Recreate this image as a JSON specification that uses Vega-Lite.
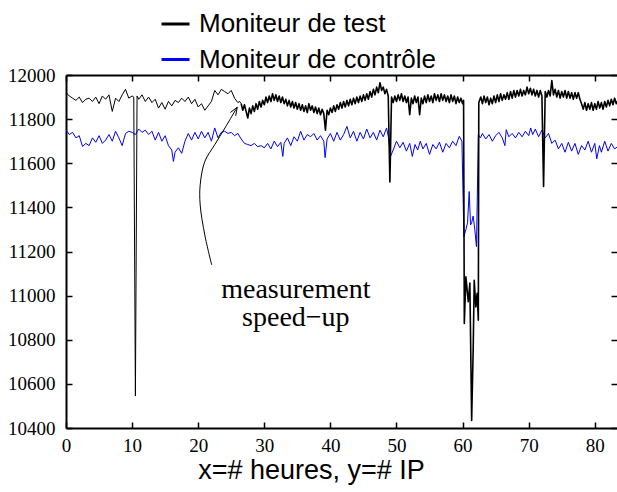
{
  "$schema": "https://vega.github.io/schema/vega-lite/v6.json",
  "width": 551,
  "height": 353,
  "autosize": {"type": "none"},
  "padding": {"left": 66, "top": 75, "right": 0, "bottom": 64},
  "background": "white",
  "config": {"view": {"stroke": null}, "axis": {"grid": false}},
  "layer": [
    {
      "data": {"values": [
        {"x":0,"y":11752},{"x":0.5,"y":11730},{"x":1,"y":11740},{"x":1.5,"y":11715},{"x":2,"y":11725},{"x":2.5,"y":11676},{"x":3,"y":11690},{"x":3.5,"y":11680},{"x":4,"y":11715},{"x":4.5,"y":11695},
        {"x":5,"y":11725},{"x":5.5,"y":11690},{"x":6,"y":11705},{"x":6.5,"y":11730},{"x":7,"y":11700},{"x":7.5,"y":11745},{"x":8,"y":11715},{"x":8.5,"y":11680},{"x":9,"y":11735},{"x":9.5,"y":11745},
        {"x":10,"y":11740},{"x":10.5,"y":11730},{"x":11,"y":11755},{"x":11.5,"y":11740},{"x":12,"y":11750},{"x":12.5,"y":11730},{"x":13,"y":11745},{"x":13.5,"y":11705},{"x":14,"y":11740},{"x":14.5,"y":11700},
        {"x":15,"y":11725},{"x":15.5,"y":11680},{"x":16,"y":11660},{"x":16.25,"y":11608},{"x":16.5,"y":11650},{"x":17,"y":11670},{"x":17.5,"y":11645},{"x":18,"y":11700},{"x":18.5,"y":11735},{"x":19,"y":11705},
        {"x":19.5,"y":11740},{"x":20,"y":11710},{"x":20.5,"y":11745},{"x":21,"y":11715},{"x":21.5,"y":11740},{"x":22,"y":11700},{"x":22.5,"y":11760},{"x":23,"y":11715},{"x":23.5,"y":11740},{"x":24,"y":11745},
        {"x":24.5,"y":11735},{"x":25,"y":11740},{"x":25.5,"y":11725},{"x":26,"y":11735},{"x":26.5,"y":11710},{"x":27,"y":11690},{"x":27.5,"y":11685},{"x":28,"y":11680},{"x":28.5,"y":11690},{"x":29,"y":11675},
        {"x":29.5,"y":11680},{"x":30,"y":11670},{"x":30.5,"y":11690},{"x":31,"y":11665},{"x":31.5,"y":11700},{"x":32,"y":11675},{"x":32.5,"y":11695},{"x":32.8,"y":11631},{"x":33,"y":11690},{"x":33.5,"y":11715},
        {"x":34,"y":11680},{"x":34.5,"y":11720},{"x":35,"y":11700},{"x":35.5,"y":11745},{"x":36,"y":11705},{"x":36.5,"y":11730},{"x":37,"y":11720},{"x":37.5,"y":11735},{"x":38,"y":11705},{"x":38.5,"y":11725},
        {"x":39,"y":11700},{"x":39.2,"y":11625},{"x":39.5,"y":11710},{"x":40,"y":11735},{"x":40.5,"y":11700},{"x":41,"y":11740},{"x":41.5,"y":11705},{"x":42,"y":11730},{"x":42.5,"y":11767},{"x":43,"y":11715},
        {"x":43.5,"y":11745},{"x":44,"y":11700},{"x":44.5,"y":11740},{"x":45,"y":11710},{"x":45.5,"y":11755},{"x":46,"y":11715},{"x":46.5,"y":11740},{"x":47,"y":11705},{"x":47.5,"y":11750},{"x":48,"y":11720},
        {"x":48.5,"y":11760},{"x":48.8,"y":11715},{"x":49.1,"y":11631},{"x":49.5,"y":11660},{"x":50,"y":11700},{"x":50.5,"y":11670},{"x":51,"y":11695},{"x":51.5,"y":11655},{"x":52,"y":11690},{"x":52.4,"y":11631},
        {"x":52.8,"y":11685},{"x":53.2,"y":11660},{"x":53.6,"y":11700},{"x":54,"y":11665},{"x":54.5,"y":11690},{"x":55,"y":11640},{"x":55.5,"y":11685},{"x":56,"y":11665},{"x":56.5,"y":11695},{"x":57,"y":11650},
        {"x":57.5,"y":11690},{"x":58,"y":11670},{"x":58.5,"y":11700},{"x":59,"y":11680},{"x":59.5,"y":11722},{"x":59.9,"y":11700},{"x":60.2,"y":11267},{"x":60.5,"y":11300},{"x":60.75,"y":11330},{"x":61.0,"y":11472},
        {"x":61.2,"y":11320},{"x":61.37,"y":11330},{"x":61.6,"y":11361},{"x":61.85,"y":11298},{"x":62.1,"y":11222},{"x":62.38,"y":11730},{"x":62.7,"y":11715},{"x":63,"y":11735},{"x":63.5,"y":11710},{"x":64,"y":11730},
        {"x":64.5,"y":11700},{"x":65,"y":11725},{"x":65.5,"y":11740},{"x":66,"y":11715},{"x":66.4,"y":11680},{"x":66.6,"y":11752},{"x":67,"y":11720},{"x":67.5,"y":11735},{"x":68,"y":11715},{"x":68.5,"y":11740},
        {"x":69,"y":11720},{"x":69.5,"y":11745},{"x":70,"y":11725},{"x":70.3,"y":11760},{"x":70.6,"y":11730},{"x":71,"y":11755},{"x":71.5,"y":11720},{"x":72,"y":11750},{"x":72.5,"y":11715},{"x":73,"y":11735},
        {"x":73.5,"y":11690},{"x":74,"y":11705},{"x":74.5,"y":11665},{"x":75,"y":11690},{"x":75.5,"y":11650},{"x":76,"y":11695},{"x":76.5,"y":11655},{"x":77,"y":11690},{"x":77.5,"y":11640},{"x":78,"y":11680},
        {"x":78.5,"y":11660},{"x":79,"y":11700},{"x":79.5,"y":11650},{"x":80,"y":11690},{"x":80.3,"y":11620},{"x":80.7,"y":11680},{"x":81,"y":11650},{"x":81.5,"y":11700},{"x":82,"y":11655},{"x":82.5,"y":11690},
        {"x":83,"y":11665},{"x":83.5,"y":11676}
      ]},
      "mark": {"type": "line", "strokeWidth": 1, "clip": true, "strokeJoin": "round"},
      "encoding": {
        "x": {"field": "x", "type": "quantitative", "scale": {"domain": [0, 83.36], "nice": false, "zero": false},
              "axis": {"orient": "top", "values": [0,10,20,30,40,50,60,70,80], "labels": false, "title": null, "tickSize": -6, "tickWidth": 1.5, "tickColor": "black", "domainColor": "black", "domainWidth": 2}},
        "y": {"field": "y", "type": "quantitative", "scale": {"domain": [10400, 12000], "nice": false, "zero": false},
              "axis": {"orient": "right", "values": [10400,10600,10800,11000,11200,11400,11600,11800,12000], "labels": false, "title": null, "tickSize": -6, "tickWidth": 1.5, "tickColor": "black", "domain": false}},
        "color": {"datum": "Moniteur de contrôle", "type": "nominal",
                  "scale": {"domain": ["Moniteur de test", "Moniteur de contrôle"], "range": ["#000000", "#0000ff"]},
                  "legend": {"orient": "none", "legendX": 94, "legendY": -66.5, "title": null, "symbolType": "stroke", "symbolSize": 784, "symbolStrokeWidth": 3, "labelFont": "Liberation Sans", "labelFontSize": 26, "labelColor": "black", "labelOffset": 8, "labelLimit": 500, "rowPadding": 6.5, "padding": 0}}
      }
    },
    {
      "data": {"values": [
        {"x":0,"y":11920},{"x":0.5,"y":11905},{"x":1,"y":11895},{"x":1.5,"y":11885},{"x":2,"y":11900},{"x":2.5,"y":11875},{"x":3,"y":11890},{"x":3.5,"y":11895},{"x":4,"y":11880},{"x":4.5,"y":11900},
        {"x":5,"y":11870},{"x":5.5,"y":11905},{"x":6,"y":11890},{"x":6.5,"y":11910},{"x":7,"y":11835},{"x":7.5,"y":11895},{"x":8,"y":11880},{"x":8.5,"y":11910},{"x":9,"y":11935},{"x":9.5,"y":11895},
        {"x":10,"y":11905},{"x":10.25,"y":11900},{"x":10.5,"y":10545},{"x":10.75,"y":11905},{"x":11,"y":11890},{"x":11.5,"y":11910},{"x":12,"y":11880},{"x":12.5,"y":11900},{"x":13,"y":11875},{"x":13.5,"y":11890},
        {"x":14,"y":11850},{"x":14.5,"y":11875},{"x":15,"y":11845},{"x":15.5,"y":11880},{"x":16,"y":11860},{"x":16.5,"y":11885},{"x":17,"y":11875},{"x":17.5,"y":11895},{"x":18,"y":11880},{"x":18.5,"y":11900},
        {"x":19,"y":11870},{"x":19.5,"y":11890},{"x":20,"y":11855},{"x":20.5,"y":11870},{"x":21,"y":11840},{"x":21.5,"y":11860},{"x":22,"y":11880},{"x":22.5,"y":11930},{"x":23,"y":11910},{"x":23.5,"y":11935},
        {"x":24,"y":11925},{"x":24.5,"y":11915},{"x":25,"y":11930},{"x":25.5,"y":11895},{"x":26,"y":11875},{"x":26.25,"y":11880},{"x":26.5,"y":11870}
      ]},
      "mark": {"type": "line", "strokeWidth": 1, "clip": true, "strokeJoin": "round"},
      "encoding": {
        "x": {"field": "x", "type": "quantitative", "scale": {"domain": [0, 83.36], "nice": false, "zero": false},
              "axis": {"orient": "bottom", "values": [0,10,20,30,40,50,60,70,80], "tickSize": -6, "tickWidth": 1.5, "tickColor": "black", "domainColor": "black", "domainWidth": 2,
                       "labelFont": "Liberation Serif", "labelFontSize": 19, "labelColor": "black", "labelPadding": 14, "labelFlush": false, "labelOverlap": false,
                       "title": "x=# heures, y=# IP", "titleFont": "Liberation Sans", "titleFontSize": 27, "titleFontWeight": "normal", "titleColor": "black",
                       "titleX": 245, "titleY": 50, "titleAlign": "center", "titleBaseline": "alphabetic"}},
        "y": {"field": "y", "type": "quantitative", "scale": {"domain": [10400, 12000], "nice": false, "zero": false},
              "axis": {"orient": "left", "values": [10400,10600,10800,11000,11200,11400,11600,11800,12000], "format": "d", "tickSize": -6, "tickWidth": 1.5, "tickColor": "black", "domainColor": "black", "domainWidth": 2,
                       "labelFont": "Liberation Serif", "labelFontSize": 19, "labelColor": "black", "labelPadding": 17, "labelFlush": false, "labelOverlap": false, "title": null}},
        "color": {"datum": "Moniteur de test", "type": "nominal",
                  "scale": {"domain": ["Moniteur de test", "Moniteur de contrôle"], "range": ["#000000", "#0000ff"]}}
      }
    },
    {
      "data": {"values": [
        {"x":26.5,"y":11870},{"x":26.75,"y":11840},{"x":27,"y":11865},{"x":27.25,"y":11835},{"x":27.5,"y":11805},{"x":27.75,"y":11850},{"x":28,"y":11825},{"x":28.25,"y":11860},{"x":28.5,"y":11835},{"x":28.75,"y":11870},
        {"x":29,"y":11845},{"x":29.25,"y":11880},{"x":29.5,"y":11855},{"x":29.75,"y":11885},{"x":30,"y":11865},{"x":30.25,"y":11900},{"x":30.5,"y":11875},{"x":30.75,"y":11905},{"x":31,"y":11880},{"x":31.25,"y":11915},
        {"x":31.5,"y":11885},{"x":31.75,"y":11910},{"x":32,"y":11880},{"x":32.25,"y":11905},{"x":32.5,"y":11875},{"x":32.75,"y":11900},{"x":33,"y":11870},{"x":33.25,"y":11890},{"x":33.5,"y":11860},{"x":33.75,"y":11885},
        {"x":34,"y":11855},{"x":34.25,"y":11880},{"x":34.5,"y":11850},{"x":34.75,"y":11875},{"x":35,"y":11845},{"x":35.25,"y":11870},{"x":35.5,"y":11840},{"x":35.75,"y":11865},{"x":36,"y":11835},{"x":36.25,"y":11860},
        {"x":36.5,"y":11830},{"x":36.75,"y":11870},{"x":37,"y":11840},{"x":37.25,"y":11860},{"x":37.5,"y":11830},{"x":37.75,"y":11855},{"x":38,"y":11825},{"x":38.25,"y":11850},{"x":38.5,"y":11820},{"x":38.75,"y":11845},
        {"x":39,"y":11825},{"x":39.25,"y":11750},{"x":39.5,"y":11840},{"x":39.75,"y":11820},{"x":40,"y":11850},{"x":40.25,"y":11830},{"x":40.5,"y":11860},{"x":40.75,"y":11835},{"x":41,"y":11865},{"x":41.25,"y":11845},
        {"x":41.5,"y":11875},{"x":41.75,"y":11850},{"x":42,"y":11880},{"x":42.25,"y":11855},{"x":42.5,"y":11885},{"x":42.75,"y":11860},{"x":43,"y":11890},{"x":43.25,"y":11865},{"x":43.5,"y":11895},{"x":43.75,"y":11870},
        {"x":44,"y":11900},{"x":44.25,"y":11875},{"x":44.5,"y":11905},{"x":44.75,"y":11880},{"x":45,"y":11910},{"x":45.25,"y":11885},{"x":45.5,"y":11915},{"x":45.75,"y":11890},{"x":46,"y":11925},{"x":46.25,"y":11900},
        {"x":46.5,"y":11935},{"x":46.75,"y":11910},{"x":47,"y":11945},{"x":47.25,"y":11920},{"x":47.5,"y":11965},{"x":47.75,"y":11930},{"x":48,"y":11945},{"x":48.25,"y":11915},{"x":48.5,"y":11935},{"x":48.75,"y":11905},
        {"x":49,"y":11515},{"x":49.25,"y":11900},{"x":49.5,"y":11875},{"x":49.75,"y":11905},{"x":50,"y":11880},{"x":50.25,"y":11910},{"x":50.5,"y":11885},{"x":50.75,"y":11915},{"x":51,"y":11880},{"x":51.25,"y":11905},
        {"x":51.5,"y":11875},{"x":51.75,"y":11900},{"x":52,"y":11820},{"x":52.25,"y":11895},{"x":52.5,"y":11870},{"x":52.75,"y":11905},{"x":53,"y":11875},{"x":53.25,"y":11900},{"x":53.5,"y":11820},{"x":53.75,"y":11895},
        {"x":54,"y":11870},{"x":54.25,"y":11905},{"x":54.5,"y":11875},{"x":54.75,"y":11910},{"x":55,"y":11880},{"x":55.25,"y":11905},{"x":55.5,"y":11875},{"x":55.75,"y":11915},{"x":56,"y":11885},{"x":56.25,"y":11910},
        {"x":56.5,"y":11880},{"x":56.75,"y":11915},{"x":57,"y":11885},{"x":57.25,"y":11910},{"x":57.5,"y":11880},{"x":57.75,"y":11905},{"x":58,"y":11875},{"x":58.25,"y":11910},{"x":58.5,"y":11880},{"x":58.75,"y":11905},
        {"x":59,"y":11870},{"x":59.25,"y":11900},{"x":59.5,"y":11875},{"x":59.75,"y":11895},{"x":60,"y":11870},{"x":60.15,"y":11885},
        {"x":60.26,"y":10874},{"x":60.5,"y":11085},{"x":60.86,"y":10972},{"x":61.1,"y":11057},{"x":61.37,"y":10434},{"x":61.6,"y":10752},{"x":61.76,"y":11070},{"x":62.0,"y":10949},{"x":62.2,"y":11010},{"x":62.38,"y":10889},
        {"x":62.45,"y":11875},{"x":62.75,"y":11900},{"x":63,"y":11870},{"x":63.25,"y":11905},{"x":63.5,"y":11875},{"x":63.75,"y":11900},{"x":64,"y":11865},{"x":64.25,"y":11895},{"x":64.5,"y":11870},{"x":64.75,"y":11905},
        {"x":65,"y":11875},{"x":65.25,"y":11910},{"x":65.5,"y":11880},{"x":65.75,"y":11915},{"x":66,"y":11885},{"x":66.25,"y":11910},{"x":66.5,"y":11890},{"x":66.75,"y":11920},{"x":67,"y":11890},{"x":67.25,"y":11925},
        {"x":67.5,"y":11895},{"x":67.75,"y":11930},{"x":68,"y":11900},{"x":68.25,"y":11930},{"x":68.5,"y":11905},{"x":68.75,"y":11935},{"x":69,"y":11905},{"x":69.25,"y":11930},{"x":69.5,"y":11910},{"x":69.75,"y":11945},
        {"x":70,"y":11915},{"x":70.25,"y":11940},{"x":70.5,"y":11910},{"x":70.75,"y":11935},{"x":71,"y":11905},{"x":71.25,"y":11930},{"x":71.5,"y":11900},{"x":71.75,"y":11930},{"x":72,"y":11905},{"x":72.25,"y":11495},
        {"x":72.5,"y":11925},{"x":72.75,"y":11900},{"x":73,"y":11930},{"x":73.25,"y":11905},{"x":73.5,"y":11975},{"x":73.75,"y":11910},{"x":74,"y":11935},{"x":74.25,"y":11900},{"x":74.5,"y":11930},{"x":74.75,"y":11895},
        {"x":75,"y":11925},{"x":75.25,"y":11900},{"x":75.5,"y":11930},{"x":75.75,"y":11895},{"x":76,"y":11925},{"x":76.25,"y":11895},{"x":76.5,"y":11920},{"x":76.75,"y":11890},{"x":77,"y":11920},{"x":77.25,"y":11895},
        {"x":77.5,"y":11920},{"x":77.75,"y":11890},{"x":78,"y":11870},{"x":78.25,"y":11845},{"x":78.5,"y":11875},{"x":78.75,"y":11840},{"x":79,"y":11870},{"x":79.25,"y":11845},{"x":79.5,"y":11875},{"x":79.75,"y":11840},
        {"x":80,"y":11870},{"x":80.25,"y":11845},{"x":80.5,"y":11880},{"x":80.75,"y":11850},{"x":81,"y":11875},{"x":81.25,"y":11845},{"x":81.5,"y":11880},{"x":81.75,"y":11855},{"x":82,"y":11885},{"x":82.25,"y":11860},
        {"x":82.5,"y":11890},{"x":82.75,"y":11865},{"x":83,"y":11895},{"x":83.25,"y":11870},{"x":83.5,"y":11885}
      ]},
      "mark": {"type": "line", "strokeWidth": 1.6, "clip": true, "strokeJoin": "round"},
      "encoding": {
        "x": {"field": "x", "type": "quantitative", "scale": {"domain": [0, 83.36], "nice": false, "zero": false}, "axis": null},
        "y": {"field": "y", "type": "quantitative", "scale": {"domain": [10400, 12000], "nice": false, "zero": false}, "axis": null},
        "color": {"datum": "Moniteur de test", "type": "nominal",
                  "scale": {"domain": ["Moniteur de test", "Moniteur de contrôle"], "range": ["#000000", "#0000ff"]}}
      }
    },
    {
      "data": {"values": [
        {"i":0,"x":22.04,"y":11139},{"i":1,"x":21.0,"y":11275},{"i":2,"x":20.3,"y":11411},{"i":3,"x":20.3,"y":11502},
        {"i":4,"x":21.0,"y":11608},{"i":5,"x":22.5,"y":11684},{"i":6,"x":24.05,"y":11760},{"i":7,"x":25.9,"y":11854}
      ]},
      "mark": {"type": "line", "color": "black", "strokeWidth": 1, "interpolate": "catmull-rom"},
      "encoding": {
        "x": {"field": "x", "type": "quantitative", "scale": {"domain": [0, 83.36], "nice": false, "zero": false}, "axis": null},
        "y": {"field": "y", "type": "quantitative", "scale": {"domain": [10400, 12000], "nice": false, "zero": false}, "axis": null},
        "order": {"field": "i", "type": "quantitative"}
      }
    },
    {
      "data": {"values": [
        {"i":0,"x":24.87,"y":11830},{"i":1,"x":25.91,"y":11854},{"i":2,"x":25.67,"y":11815}
      ]},
      "mark": {"type": "line", "color": "black", "strokeWidth": 1},
      "encoding": {
        "x": {"field": "x", "type": "quantitative", "scale": {"domain": [0, 83.36], "nice": false, "zero": false}, "axis": null},
        "y": {"field": "y", "type": "quantitative", "scale": {"domain": [10400, 12000], "nice": false, "zero": false}, "axis": null},
        "order": {"field": "i", "type": "quantitative"}
      }
    },
    {
      "data": {"values": [
        {"x":34.77,"y":10989,"t":"measurement\nspeed−up"}
      ]},
      "mark": {"type": "text", "font": "Liberation Serif", "fontSize": 28, "lineBreak": "\n", "lineHeight": 28, "align": "center", "baseline": "alphabetic", "color": "black"},
      "encoding": {
        "x": {"field": "x", "type": "quantitative", "scale": {"domain": [0, 83.36], "nice": false, "zero": false}, "axis": null},
        "y": {"field": "y", "type": "quantitative", "scale": {"domain": [10400, 12000], "nice": false, "zero": false}, "axis": null},
        "text": {"field": "t"}
      }
    }
  ]
}
